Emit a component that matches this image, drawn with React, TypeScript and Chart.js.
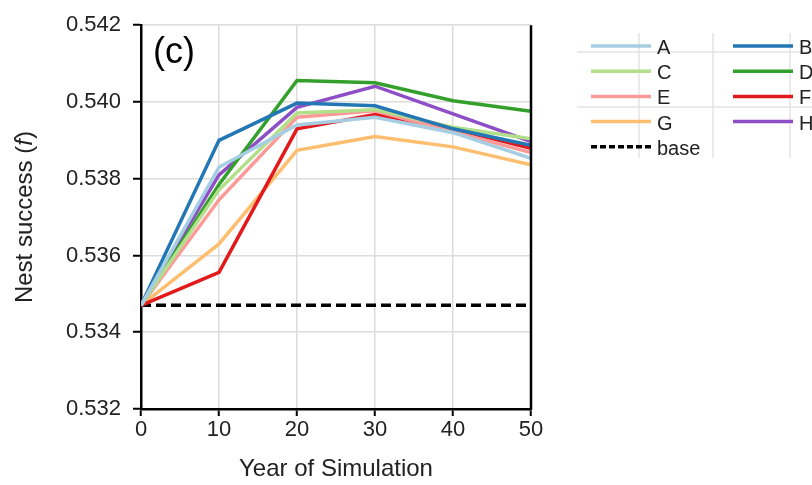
import React, { useEffect, useRef } from 'react';
import { Chart, registerables } from 'chart.js';

Chart.register(...registerables);

// ---- data ----
const years = [0, 10, 20, 30, 40, 50];
const seriesA = [0.5347, 0.5383, 0.5394, 0.5396, 0.5392, 0.53853];
const seriesB = [0.5347, 0.5390, 0.53997, 0.5399, 0.5393, 0.53887];
const seriesC = [0.5347, 0.53771, 0.53971, 0.5398, 0.53934, 0.53904];
const seriesD = [0.5347, 0.53785, 0.54056, 0.5405, 0.54003, 0.53976];
const seriesE = [0.5347, 0.53745, 0.5396, 0.53977, 0.53922, 0.53868];
const seriesF = [0.5347, 0.53556, 0.5393, 0.53967, 0.5393, 0.53879];
const seriesG = [0.5347, 0.5363, 0.53874, 0.5391, 0.53883, 0.53836];
const seriesH = [0.5347, 0.5381, 0.53986, 0.54041, 0.53969, 0.53897];
const seriesBase = [0.5347, 0.5347, 0.5347, 0.5347, 0.5347, 0.5347];
const seriesNames = ['A', 'B', 'C', 'D', 'E', 'F', 'G', 'H', 'base'];
const yTickValues = [0.532, 0.534, 0.536, 0.538, 0.54, 0.542];
const xTickValues = [0, 10, 20, 30, 40, 50];

const COLORS: Record<string, string> = {
  A: '#a6cee3',
  B: '#2377b4',
  C: '#b2df8a',
  D: '#33a02c',
  E: '#fb9a99',
  F: '#e31a1c',
  G: '#fdbf6f',
  H: '#8e4fc6',
  base: '#000000',
};

const FONT = '"Liberation Sans", Arial, Helvetica, sans-serif';

const overlayPlugin = {
  id: 'overlayPlugin',
  afterDraw(chart: any) {
    const { ctx, chartArea } = chart;
    ctx.save();
    // right frame line
    ctx.strokeStyle = '#000';
    ctx.lineWidth = 2.5;
    ctx.beginPath();
    ctx.moveTo(chartArea.right, chartArea.top);
    ctx.lineTo(chartArea.right, chartArea.bottom + 1);
    ctx.stroke();
    // panel label
    ctx.fillStyle = '#000';
    ctx.font = `36px ${FONT}`;
    ctx.textAlign = 'left';
    ctx.textBaseline = 'top';
    ctx.fillText('(c)', chartArea.left + 12, chartArea.top + 10);
    // y-axis title with italic f
    const cy = (chartArea.top + chartArea.bottom) / 2;
    ctx.translate(25, cy);
    ctx.rotate(-Math.PI / 2);
    ctx.textBaseline = 'middle';
    const p1 = 'Nest success (';
    const p2 = 'f';
    const p3 = ')';
    ctx.font = `24px ${FONT}`;
    const w1 = ctx.measureText(p1).width;
    const w3 = ctx.measureText(p3).width;
    ctx.font = `italic 24px ${FONT}`;
    const w2 = ctx.measureText(p2).width;
    let x = -(w1 + w2 + w3) / 2;
    ctx.fillStyle = '#222';
    ctx.font = `24px ${FONT}`;
    ctx.fillText(p1, x, 0);
    x += w1;
    ctx.font = `italic 24px ${FONT}`;
    ctx.fillText(p2, x, 0);
    x += w2;
    ctx.font = `24px ${FONT}`;
    ctx.fillText(p3, x, 0);
    ctx.restore();
  },
};

function Legend() {
  const rows = [
    ['A', 'B'],
    ['C', 'D'],
    ['E', 'F'],
    ['G', 'H'],
    ['base', null],
  ];
  const colLine = [
    [591, 651, 657],
    [733, 793, 799],
  ];
  const rowY = (i: number) => 46 + i * 25.2;
  return (
    <svg
      width={812}
      height={485}
      style={{ position: 'absolute', left: 0, top: 0, pointerEvents: 'none' }}
    >
      {/* faint background grid of neighbouring panel */}
      {[639, 713, 790].map((gx) => (
        <line key={'v' + gx} x1={gx} x2={gx} y1={33} y2={158} stroke="#e3e3e3" strokeWidth={1.5} />
      ))}
      {[52, 107].map((gy) => (
        <line key={'h' + gy} x1={577} x2={812} y1={gy} y2={gy} stroke="#e3e3e3" strokeWidth={1.5} />
      ))}
      {rows.map((row, ri) =>
        row.map((name, ci) => {
          if (!name) return null;
          const [x1, x2, tx] = colLine[ci];
          const y = rowY(ri);
          const isBase = name === 'base';
          return (
            <g key={name}>
              <line
                x1={x1}
                x2={x2}
                y1={y}
                y2={y}
                stroke={COLORS[name]}
                strokeWidth={3.5}
                strokeDasharray={isBase ? '6 3' : undefined}
              />
              <text
                x={tx}
                y={y + 1}
                dominantBaseline="central"
                fontFamily={FONT}
                fontSize={20}
                fill="#222"
              >
                {name}
              </text>
            </g>
          );
        })
      )}
    </svg>
  );
}

export default function App() {
  const canvasRef = useRef<HTMLCanvasElement | null>(null);

  useEffect(() => {
    if (!canvasRef.current) return;
    const allSeries = [
      seriesA, seriesB, seriesC, seriesD, seriesE, seriesF, seriesG, seriesH, seriesBase,
    ];
    const datasets = allSeries.map((s, i) => {
      const name = seriesNames[i];
      const isBase = name === 'base';
      return {
        label: name,
        data: years.map((yr, j) => ({ x: yr, y: s[j] })),
        borderColor: COLORS[name],
        backgroundColor: COLORS[name],
        borderWidth: 3.5,
        borderDash: isBase ? [10, 5] : [],
        pointRadius: 0,
        tension: 0,
        fill: false,
      };
    });

    const chart = new Chart(canvasRef.current, {
      type: 'line',
      data: { datasets },
      plugins: [overlayPlugin],
      options: {
        animation: false,
        responsive: false,
        devicePixelRatio: 1,
        layout: { padding: { left: 0, right: 281, top: 20, bottom: 0 } },
        plugins: {
          legend: { display: false },
          tooltip: { enabled: false },
        },
        scales: {
          x: {
            type: 'linear',
            min: 0,
            max: 50,
            afterBuildTicks: (scale: any) => {
              scale.ticks = xTickValues.map((v) => ({ value: v }));
            },
            afterFit: (scale: any) => {
              scale.height = 76;
            },
            grid: {
              color: '#dcdcdc',
              lineWidth: 1.5,
              tickColor: '#000',
              tickLength: 7,
              tickWidth: 2,
            },
            border: { color: '#000', width: 2.5 },
            ticks: {
              color: '#222',
              font: { family: FONT, size: 22 },
              padding: 1,
              maxRotation: 0,
            },
            title: {
              display: true,
              text: 'Year of Simulation',
              color: '#222',
              font: { family: FONT, size: 24 },
              padding: { top: 0, bottom: 1 },
            },
          },
          y: {
            type: 'linear',
            min: 0.532,
            max: 0.542,
            afterBuildTicks: (scale: any) => {
              scale.ticks = yTickValues.map((v) => ({ value: v }));
            },
            afterFit: (scale: any) => {
              scale.width = 141;
            },
            grid: {
              color: '#dcdcdc',
              lineWidth: 1.5,
              tickColor: '#000',
              tickLength: 8,
              tickWidth: 2,
            },
            border: { color: '#000', width: 2.5 },
            ticks: {
              color: '#222',
              font: { family: FONT, size: 22 },
              padding: 12,
              callback: (v: any) => Number(v).toFixed(3),
            },
          },
        },
      },
    });
    return () => chart.destroy();
  }, []);

  return (
    <div style={{ position: 'fixed', left: 0, top: 0, width: 812, height: 485, background: '#fff' }}>
      <canvas ref={canvasRef} width={812} height={485} style={{ display: 'block' }} />
      <Legend />
    </div>
  );
}
